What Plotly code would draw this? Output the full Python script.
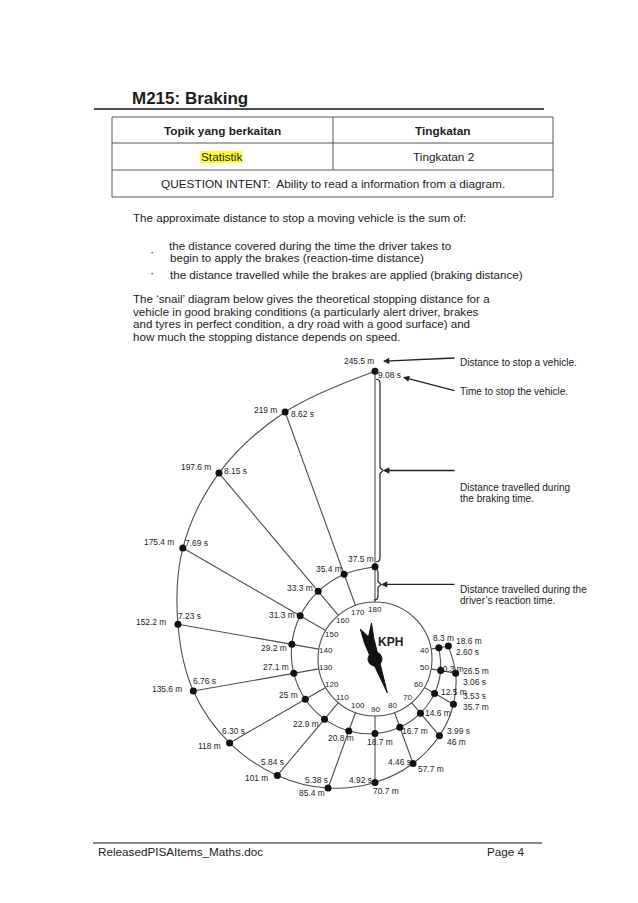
import math
import plotly.graph_objects as go

# ---------------- data ----------------
speeds_kph = [40, 50, 60, 70, 80, 90, 100, 110, 120, 130, 140, 150, 160, 170, 180]
reaction_m = [8.3, 10.3, 12.5, 14.6, 16.7, 18.7, 20.8, 22.9, 25, 27.1, 29.2, 31.3, 33.3, 35.4, 37.5]
stopping_m = [18.6, 26.5, 35.7, 46, 57.7, 70.7, 85.4, 101, 118, 135.6, 152.2, 175.4, 197.6, 219, 245.5]
stop_time_s = [2.60, 3.06, 3.53, 3.99, 4.46, 4.92, 5.38, 5.84, 6.30, 6.76, 7.23, 7.69, 8.15, 8.62, 9.08]

# label placement (px offsets from the dot, screen: +x right, +y down)
# first four stopping points carry a stacked two-line label (left-anchored)
stack_order = ["dt", "dt", "td", "td"]          # d = distance first, t = time first
stack_off = [(6, 0.5), (5, 3), (7.5, -2.5), (5.5, 0.5)]
stop_lbl_off = [None, None, None, None, (17.5, 5), (10.5, 9), (-16, 5), (-21, 3),
                (-20, 3), (-26, -2), (-26.5, -2), (-23.5, -6), (-23, -6), (-20, -2), (-16, -10)]
time_lbl_off = [None, None, None, None, (-14, -2), (-15, -2), (-12, -8), (-5, -13),
                (4, -12), (11, -10), (12, -8), (14, -5), (17, -2), (17, 2), (14, 4)]
react_lbl_off = [(5, -10), (10.5, -2), (19, -1), (17.5, 0), (15.5, 4), (4.5, 8), (-7.5, 7), (-19, 5),
                 (-17, -4), (-17.5, -6), (-17.5, 4), (-18.5, -1), (-18.5, -3), (-15.5, -5), (-14.5, -8)]

# ---------------- geometry / scales ----------------
W, H = 638, 903
CX, CY = 375, 659           # dial centre (px)
R_DIAL = 57                 # dial radius (px)
PX_PER_M = 0.94             # radial scale
FONT = "Liberation Sans, Arial, sans-serif"
TXT = "#1c1c1c"
LINE = "#4d4d4d"
LS = 8.4                    # diagram label size


def P(px, py):
    """page pixel -> axis coords"""
    return px - CX, CY - py


def ang(speed):
    return math.radians(90 + (180 - speed) * 2)


def pol(speed, dist):
    r = R_DIAL + PX_PER_M * dist
    a = ang(speed)
    return r * math.cos(a), r * math.sin(a)


fig = go.Figure()

# spokes
sx, sy = [], []
for s, rd, sd in zip(speeds_kph, reaction_m, stopping_m):
    for d in (0, rd, sd):
        x, y = pol(s, d)
        sx.append(x); sy.append(y)
    sx.append(None); sy.append(None)
fig.add_trace(go.Scatter(x=sx, y=sy, mode="lines", line=dict(color=LINE, width=1.1), hoverinfo="skip"))

# rings (spiral)
rx, ry = zip(*[pol(s, d) for s, d in zip(speeds_kph, reaction_m)])
ox, oy = zip(*[pol(s, d) for s, d in zip(speeds_kph, stopping_m)])
fig.add_trace(go.Scatter(x=rx, y=ry, mode="lines", line=dict(color=LINE, width=1.1, shape="spline", smoothing=1.0), hoverinfo="skip"))
fig.add_trace(go.Scatter(x=ox, y=oy, mode="lines", line=dict(color=LINE, width=1.1, shape="spline", smoothing=1.0), hoverinfo="skip"))

# dial circle
fig.add_shape(type="circle", xref="x", yref="y", x0=-R_DIAL, y0=-R_DIAL, x1=R_DIAL, y1=R_DIAL,
              line=dict(color=LINE, width=1.1))

# dots
fig.add_trace(go.Scatter(x=list(rx) + list(ox), y=list(ry) + list(oy), mode="markers",
                         marker=dict(size=7, color="#111111"), hoverinfo="skip"))

ann = []


def label(x, y, text, dx=0, dy=0, size=LS, **kw):
    d = dict(x=x, y=y, xref="x", yref="y", text=text, showarrow=False, xshift=dx, yshift=-dy,
             font=dict(family=FONT, size=size, color=TXT))
    d.update(kw)
    ann.append(d)


for i, s in enumerate(speeds_kph):
    x, y = ox[i], oy[i]
    dist_txt = f"{stopping_m[i]:g} m"
    time_txt = f"{stop_time_s[i]:.2f} s"
    if i < len(stack_order):
        lines = [dist_txt, time_txt] if stack_order[i] == "dt" else [time_txt, dist_txt]
        label(x, y, "<br>".join(lines), *stack_off[i], xanchor="left", align="left")
    else:
        label(x, y, dist_txt, *stop_lbl_off[i])
        label(x, y, time_txt, *time_lbl_off[i])
    x, y = rx[i], ry[i]
    label(x, y, f"{reaction_m[i]:g} m", *react_lbl_off[i])
    # dial numbers
    a = ang(s)
    label(50 * math.cos(a), 50 * math.sin(a), str(s), size=8)

# needle
na = math.radians(-70)
needle_local = [(36, 0), (2, 3.2), (-20, 6), (-35, 9), (-23, 1.5), (-33, -3.5), (-18, -4.5), (2, -3.2), (36, 0)]
nx = [u * math.cos(na) - v * math.sin(na) for u, v in needle_local]
ny = [u * math.sin(na) + v * math.cos(na) for u, v in needle_local]
fig.add_trace(go.Scatter(x=nx, y=ny, mode="lines", fill="toself", fillcolor="#111111",
                         line=dict(color="#111111", width=1), hoverinfo="skip"))
fig.add_shape(type="circle", xref="x", yref="y", x0=-7, y0=-7, x1=7, y1=7,
              fillcolor="#111111", line=dict(color="#111111", width=1))
label(*P(390.5, 642), "<b>KPH</b>", size=12)

# brackets (right of 180 spoke)
sx180, sy180 = ox[-1], oy[-1]
rx180, ry180 = rx[-1], ry[-1]


def bracket(xb, ytop, ybot, w=4, n=3):
    ym = (ytop + ybot) / 2
    return (f"M {xb - w},{ytop} Q {xb},{ytop} {xb},{ytop - w} L {xb},{ym + n} "
            f"L {xb + n},{ym} L {xb},{ym - n} L {xb},{ybot + w} Q {xb},{ybot} {xb - w},{ybot}")


big_top, big_bot = sy180 - 8, ry180 + 5
fig.add_shape(type="path", xref="x", yref="y", path=bracket(sx180 + 5, big_top, big_bot),
              line=dict(color="#222222", width=1.2))
sm_top, sm_bot = ry180 - 2, R_DIAL + 2
fig.add_shape(type="path", xref="x", yref="y", path=bracket(sx180 + 3, sm_top, sm_bot),
              line=dict(color="#222222", width=1.2))


def arrow(x_head, y_head, x_tail, y_tail):
    ann.append(dict(x=x_head, y=y_head, ax=x_tail, ay=y_tail, xref="x", yref="y", axref="x", ayref="y",
                    text="", showarrow=True, arrowhead=2, arrowsize=0.9, arrowwidth=1.4, arrowcolor="#222222"))


TX = 458 - CX
arrow(sx180 + 8, sy180 + 10, TX - 2, CY - 358)
arrow(sx180 + 28, sy180 - 6, TX - 2, CY - 391)
arrow(sx180 + 8, (big_top + big_bot) / 2, TX - 2, (big_top + big_bot) / 2)
arrow(sx180 + 6, (sm_top + sm_bot) / 2, TX - 2, (sm_top + sm_bot) / 2)

RS = 10
label(TX, CY - 362, "Distance to stop a vehicle.", size=RS, xanchor="left")
label(TX, CY - 391, "Time to stop the vehicle.", size=RS, xanchor="left")
label(TX, CY - 487, "Distance travelled during", size=RS, xanchor="left")
label(TX, CY - 498, "the braking time.", size=RS, xanchor="left")
label(TX, (sm_top + sm_bot) / 2 - 5, "Distance travelled during the", size=RS, xanchor="left")
label(TX, (sm_top + sm_bot) / 2 - 16, "driver\u2019s reaction time.", size=RS, xanchor="left")

# ---------------- document page ----------------
label(*P(130, 98), "<b>M215: Braking</b>", size=17, xanchor="left")
fig.add_shape(type="line", xref="x", yref="y", x0=P(94, 0)[0], x1=P(544, 0)[0], y0=P(0, 109)[1], y1=P(0, 109)[1],
              line=dict(color="#111111", width=1.5))

# table
tbl = dict(color="#555555", width=1)
fig.add_shape(type="rect", xref="x", yref="y", x0=P(112, 0)[0], x1=P(553, 0)[0], y0=P(0, 117)[1], y1=P(0, 197)[1], line=tbl)
for yy in (143, 170):
    fig.add_shape(type="line", xref="x", yref="y", x0=P(112, 0)[0], x1=P(553, 0)[0], y0=P(0, yy)[1], y1=P(0, yy)[1], line=tbl)
fig.add_shape(type="line", xref="x", yref="y", x0=P(333, 0)[0], x1=P(333, 0)[0], y0=P(0, 117)[1], y1=P(0, 170)[1], line=tbl)
fig.add_shape(type="rect", xref="x", yref="y", x0=P(200, 0)[0], x1=P(242, 0)[0], y0=P(0, 151)[1], y1=P(0, 163)[1],
              fillcolor="#ffff2e", line=dict(width=0), layer="below")
TS = 11.8
label(*P(222.5, 131), "<b>Topik yang berkaitan</b>", size=TS)
label(*P(443, 131), "<b>Tingkatan</b>", size=TS)
label(*P(221, 157), "Statistik", size=TS)
label(*P(443, 157), "Tingkatan 2", size=TS)
label(*P(332.5, 184), "QUESTION INTENT:\u00a0 Ability to read a information from a diagram.", size=TS)

PS = 11.6
label(*P(131, 217), "The approximate distance to stop a moving vehicle is the sum of:", size=PS, xanchor="left")
label(*P(152, 252), "\u00b7", size=12.5)
label(*P(167, 245.5), "the distance covered during the time the driver takes to", size=PS, xanchor="left")
label(*P(168, 257.5), "begin to apply the brakes (reaction-time distance)", size=PS, xanchor="left")
label(*P(152, 273), "\u00b7", size=12.5)
label(*P(168, 274), "the distance travelled while the brakes are applied (braking distance)", size=PS, xanchor="left")
label(*P(131, 298), "The \u2018snail\u2019 diagram below gives the theoretical stopping distance for a", size=PS, xanchor="left")
label(*P(131, 311), "vehicle in good braking conditions (a particularly alert driver, brakes", size=PS, xanchor="left")
label(*P(131, 323), "and tyres in perfect condition, a dry road with a good surface) and", size=PS, xanchor="left")
label(*P(131, 336), "how much the stopping distance depends on speed.", size=PS, xanchor="left")

# footer
fig.add_shape(type="line", xref="x", yref="y", x0=P(93, 0)[0], x1=P(542, 0)[0], y0=P(0, 843)[1], y1=P(0, 843)[1],
              line=dict(color="#111111", width=1))
label(*P(96, 851), "ReleasedPISAItems_Maths.doc", size=11.7, xanchor="left")
label(*P(527, 851), "Page 4", size=11.7, xanchor="right")

fig.update_layout(
    width=W, height=H, margin=dict(l=0, r=0, t=0, b=0),
    paper_bgcolor="white", plot_bgcolor="white", showlegend=False,
    xaxis=dict(range=[-CX, W - CX], visible=False, fixedrange=True),
    yaxis=dict(range=[CY - H, CY], visible=False, fixedrange=True),
    annotations=ann,
)
fig.write_html("out.html", config={"displayModeBar": False},
               post_script="document.body.style.margin='0px';")
